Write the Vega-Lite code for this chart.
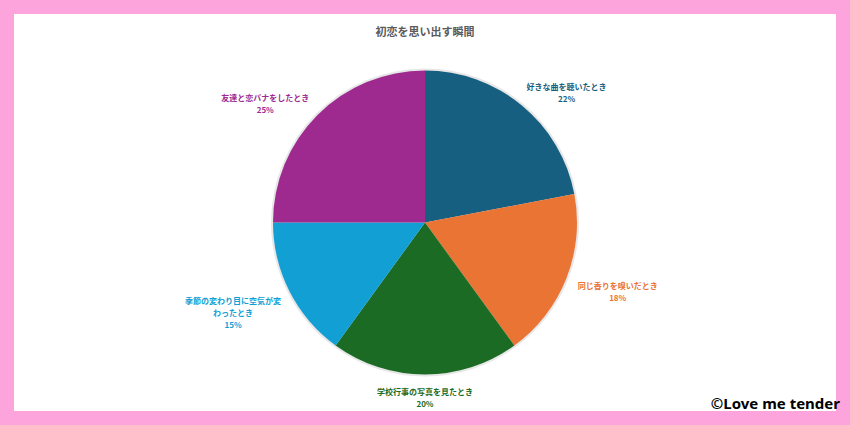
{
  "$schema": "https://vega.github.io/schema/vega-lite/v6.json",
  "width": 822,
  "height": 397,
  "autosize": {"type": "none"},
  "padding": 14,
  "background": "#fda4dc",
  "view": {"fill": "white", "stroke": null},
  "title": {
    "text": "初恋を思い出す瞬間",
    "offset": -24,
    "font": "Noto Sans CJK JP",
    "fontSize": 11,
    "fontWeight": "bold",
    "color": "#5a5a5a"
  },
  "data": {
    "values": [
      {"rank": 1, "name": "好きな曲を聴いたとき", "value": 0.22, "label": "好きな曲を聴いたとき\n22%"},
      {"rank": 2, "name": "同じ香りを嗅いだとき", "value": 0.18, "label": "同じ香りを嗅いだとき\n18%"},
      {"rank": 3, "name": "学校行事の写真を見たとき", "value": 0.20, "label": "学校行事の写真を見たとき\n20%"},
      {"rank": 4, "name": "季節の変わり目に空気が変わったとき", "value": 0.15, "label": "季節の変わり目に空気が変\nわったとき\n15%"},
      {"rank": 5, "name": "友達と恋バナをしたとき", "value": 0.25, "label": "友達と恋バナをしたとき\n25%"}
    ]
  },
  "encoding": {
    "theta": {"field": "value", "type": "quantitative", "stack": true},
    "order": {"field": "rank", "type": "quantitative"},
    "color": {
      "field": "name",
      "type": "nominal",
      "sort": null,
      "scale": {
        "domain": ["好きな曲を聴いたとき", "同じ香りを嗅いだとき", "学校行事の写真を見たとき", "季節の変わり目に空気が変わったとき", "友達と恋バナをしたとき"],
        "range": ["#175f80", "#e97434", "#1b6b24", "#119fd4", "#9e2a90"]
      },
      "legend": null
    }
  },
  "layer": [
    {
      "mark": {"type": "arc", "outerRadius": 154, "yOffset": 10, "fill": "#bbbbbb", "opacity": 0.35},
      "encoding": {"color": null}
    },
    {
      "mark": {"type": "arc", "outerRadius": 152, "yOffset": 10}
    },
    {
      "mark": {"type": "text", "radius": 175, "dx": 30, "yOffset": 10, "font": "Noto Sans CJK JP", "fontSize": 8, "fontWeight": "bold", "lineBreak": "\n", "lineHeight": 12, "align": "center", "baseline": "middle"},
      "encoding": {
        "text": {"field": "label"},
        "opacity": {"condition": {"test": "datum.rank <= 2", "value": 1}, "value": 0}
      }
    },
    {
      "mark": {"type": "text", "radius": 170, "yOffset": 10, "font": "Noto Sans CJK JP", "fontSize": 8, "fontWeight": "bold", "lineBreak": "\n", "lineHeight": 12, "align": "center", "baseline": "middle"},
      "encoding": {
        "text": {"field": "label"},
        "opacity": {"condition": {"test": "datum.rank == 3", "value": 1}, "value": 0}
      }
    },
    {
      "mark": {"type": "text", "radius": 175, "dx": -36, "yOffset": 10, "font": "Noto Sans CJK JP", "fontSize": 8, "fontWeight": "bold", "lineBreak": "\n", "lineHeight": 12, "align": "center", "baseline": "middle"},
      "encoding": {
        "text": {"field": "label"},
        "opacity": {"condition": {"test": "datum.rank >= 4", "value": 1}, "value": 0}
      }
    },
    {
      "data": {"values": [{"credit": "©Love me tender"}]},
      "mark": {"type": "text", "align": "right", "baseline": "alphabetic", "dx": 4, "dy": -2, "font": "Noto Sans", "fontSize": 15, "fontWeight": "bold", "color": "black"},
      "encoding": {
        "x": {"value": "width"},
        "y": {"value": "height"},
        "text": {"field": "credit"},
        "theta": null,
        "order": null,
        "color": null
      }
    }
  ]
}
